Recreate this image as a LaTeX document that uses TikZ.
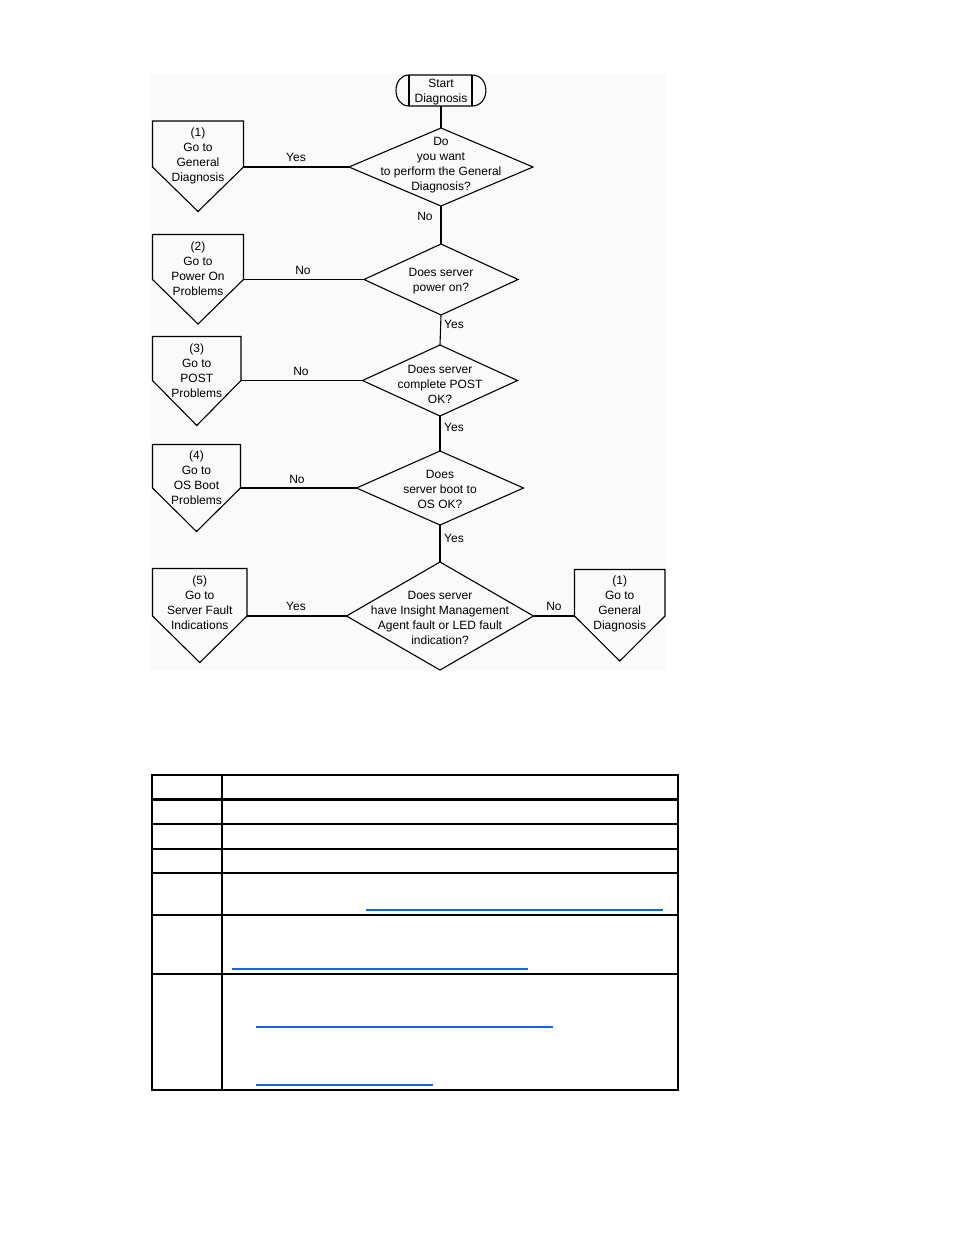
\documentclass[tikz,border=0pt]{standalone}
\usepackage{fontspec}
\setmainfont{Liberation Sans}
\usetikzlibrary{shapes.geometric}
\definecolor{linkblue}{RGB}{20,100,230}
\definecolor{bgpanel}{RGB}{250,250,250}
\tikzset{
  conn/.style={draw=black, line width=1.1pt, line join=miter},
  dia/.style={draw=black, line width=1.1pt, shape=diamond, inner sep=0pt, outer sep=0pt},
  txt/.style={align=center, inner sep=0pt, yshift=-1.5pt, font=\fontsize{12}{15}\selectfont},
  lbl/.style={inner sep=0pt, yshift=-1pt, font=\fontsize{12}{15}\selectfont},
  tab/.style={draw=black, line width=1.8pt},
  link/.style={draw=linkblue, line width=1.6pt}
}
\newcommand{\offpage}[8]{%
  \draw[conn] (#2,#4) -- (#3,#4) -- (#3,#5) -- ({(#2+#3)/2},#6) -- (#2,#5) -- cycle;
  \coordinate (#1-r) at (#3,#5);
  \coordinate (#1-l) at (#2,#5);
  \node[txt] (#1) at ({(#2+#3)/2},#7) {#8};
}
\begin{document}
\begin{tikzpicture}[x=1pt,y=-1pt]
\useasboundingbox (0,0) rectangle (954,1235);
\fill[white] (0,0) rectangle (954,1235);
% faint panel behind the flowchart
\fill[bgpanel] (151,74) rectangle (665,671);

% start terminal
\draw[conn] (409,75) -- (472,75) .. controls (490.5,75) and (490.5,106) .. (472,106)
  -- (409,106) .. controls (391.7,106) and (391.7,75) .. (409,75) -- cycle;
\draw[conn] (409,75) -- (409,106);
\draw[conn] (472,75) -- (472,106);
\node[txt] (start) at (441,90.5) {Start\\Diagnosis};
\coordinate (start-b) at (441,106);

% decisions
\node[dia, minimum width=184pt, minimum height=78pt] (d1) at (441,167) {};
\node[txt] (t1) at (441,163.5) {Do\\you want\\to perform the General\\Diagnosis?};
\node[dia, minimum width=154pt, minimum height=71pt] (d2) at (441,279.5) {};
\node[txt] (t2) at (441,279.5) {Does server\\power on?};
\node[dia, minimum width=155pt, minimum height=71pt] (d3) at (440,380.5) {};
\node[txt] (t3) at (440,383) {Does server\\complete POST\\OK?};
\node[dia, minimum width=167pt, minimum height=74pt] (d4) at (440,488) {};
\node[txt] (t4) at (440,487.5) {Does\\server boot to\\OS OK?};
\node[dia, minimum width=187pt, minimum height=108pt] (d5) at (440,616) {};
\node[txt] (t5) at (440,616.5) {Does server\\have Insight Management\\Agent fault or LED fault\\indication?};

% off-page connectors
\offpage{c1}{152.5}{243.5}{121}{167}{211.5}{154.5}{(1)\\Go to\\General\\Diagnosis}
\offpage{c2}{152.5}{243.5}{234.5}{279.5}{324}{267.5}{(2)\\Go to\\Power On\\Problems}
\offpage{c3}{152.5}{241}{336.5}{380.5}{425.5}{369}{(3)\\Go to\\POST\\Problems}
\offpage{c4}{152.5}{240.5}{444.5}{488}{531.5}{476.5}{(4)\\Go to\\OS Boot\\Problems}
\offpage{c5}{152.5}{247}{568.5}{616}{662.5}{601.5}{(5)\\Go to\\Server Fault\\Indications}
\offpage{c6}{574.5}{665}{569.5}{616}{661}{602}{(1)\\Go to\\General\\Diagnosis}

% connectors
\draw[conn] (start-b) -- (d1.north);
\draw[conn] (d1.south) -- (d2.north);
\draw[conn] (d2.south) -- (d3.north);
\draw[conn] (d3.south) -- (d4.north);
\draw[conn] (d4.south) -- (d5.north);
\draw[conn] (c1-r) -- (d1.west);
\draw[conn] (c2-r) -- (d2.west);
\draw[conn] (c3-r) -- (d3.west);
\draw[conn] (c4-r) -- (d4.west);
\draw[conn] (c5-r) -- (d5.west);
\draw[conn] (d5.east) -- (c6-l);

% connector labels
\node[lbl] (y1) at (296,156) {Yes};
\node[lbl] (n1) at (425,215) {No};
\node[lbl] (n2) at (303,269) {No};
\node[lbl] (y2) at (454,323) {Yes};
\node[lbl] (n3) at (301,370) {No};
\node[lbl] (y3) at (454,426) {Yes};
\node[lbl] (n4) at (297,478) {No};
\node[lbl] (y4) at (454,537) {Yes};
\node[lbl] (y5) at (296,605) {Yes};
\node[lbl] (n5) at (554,605) {No};

% table
\draw[tab] (152.3,775.3) rectangle (678.3,1090.3);
\draw[tab] (222.3,775.3) -- (222.3,1090.3);
\draw[draw=black, line width=3pt] (152.3,799.7) -- (678.3,799.7);
\draw[tab] (152.3,824.3) -- (678.3,824.3);
\draw[tab] (152.3,849.3) -- (678.3,849.3);
\draw[tab] (152.3,873.3) -- (678.3,873.3);
\draw[tab] (152.3,915.3) -- (678.3,915.3);
\draw[tab] (152.3,974.3) -- (678.3,974.3);

% link underlines
\draw[link] (366,910) -- (662.7,910);
\draw[link] (232,969) -- (527.7,969);
\draw[link] (256,1027) -- (552.7,1027);
\draw[link] (256,1085) -- (432.7,1085);
\end{tikzpicture}
\end{document}
